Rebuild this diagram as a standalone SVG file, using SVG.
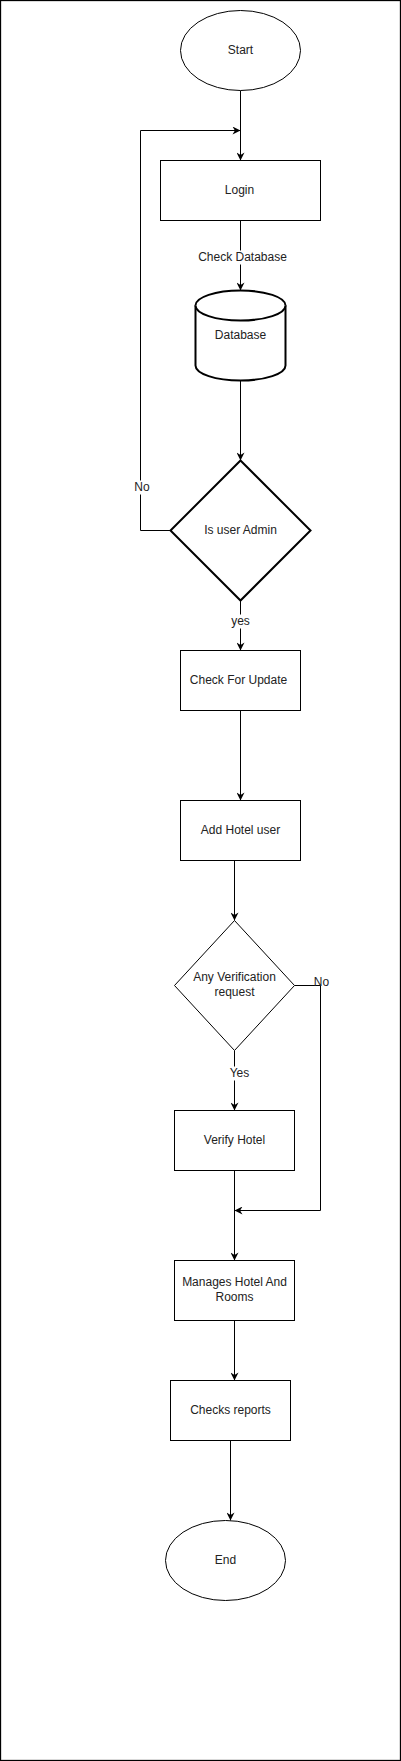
<svg xmlns="http://www.w3.org/2000/svg" width="401" height="1761" viewBox="0 0 401 1761">
<style>
text{font-family:"Liberation Sans",Arial,sans-serif;font-size:12px;fill:#222;text-anchor:middle;dominant-baseline:central;transform:translateY(-1px)}
.s{fill:#fff;stroke:#000;stroke-width:1}
.b{fill:#fff;stroke:#000;stroke-width:2}
.c{fill:none;stroke:#000;stroke-width:1}
.lbl{fill:#fff}
</style>
<defs>
<marker id="arr" viewBox="0 0 10 10" refX="10" refY="5" markerWidth="9" markerHeight="8" markerUnits="userSpaceOnUse" orient="auto">
<path d="M0,0 L10,5 L0,10 L3,5 z" fill="#000"/>
</marker>
</defs>
<rect x="0.5" y="0.5" width="400" height="1760" fill="#fff" stroke="#000" stroke-width="1.3"/>
<g transform="translate(0.5,0.5)">
<g id="connectors">
<path class="c" d="M240,90 L240,160" marker-end="url(#arr)"/>
<path class="c" d="M170,530 L140,530 L140,130 L240,130" marker-end="url(#arr)"/>
<path class="c" d="M240,220 L240,290" marker-end="url(#arr)"/>
<rect class="lbl" x="200" y="250" width="84" height="14"/>
<text x="242" y="257">Check Database</text>
<path class="c" d="M240,380 L240,460" marker-end="url(#arr)"/>
<path class="c" d="M240,600 L240,650" marker-end="url(#arr)"/>
<rect class="lbl" x="229" y="614" width="22" height="14"/>
<text x="240" y="621">yes</text>
<rect class="lbl" x="131" y="480" width="20" height="14"/>
<text x="141.5" y="487">No</text>
<path class="c" d="M240,710 L240,800" marker-end="url(#arr)"/>
<path class="c" d="M234,860 L234,920" marker-end="url(#arr)"/>
<path class="c" d="M234,1050 L234,1110" marker-end="url(#arr)"/>
<rect class="lbl" x="224" y="1066" width="21" height="14"/>
<text x="239" y="1073">Yes</text>
<path class="c" d="M294,985 L320,985 L320,1210 L234,1210" marker-end="url(#arr)"/>
<text x="321" y="982">No</text>
<path class="c" d="M234,1170 L234,1260" marker-end="url(#arr)"/>
<path class="c" d="M234,1320 L234,1380" marker-end="url(#arr)"/>
<path class="c" d="M230,1440 L230,1520" marker-end="url(#arr)"/>
</g>
<g id="start">
<ellipse class="s" cx="240" cy="50" rx="60" ry="40"/>
<text x="240" y="50">Start</text>
</g>
<g id="login">
<rect class="s" x="160" y="160" width="160" height="60"/>
<text x="239" y="190">Login</text>
</g>
<g id="database">
<path class="b" d="M195,305 A45,15 0 0 1 285,305 L285,365 A45,15 0 0 1 195,365 Z"/>
<path class="b" d="M195,305 A45,15 0 0 0 285,305" fill="none"/>
<text x="240" y="335">Database</text>
</g>
<g id="isAdmin">
<path class="b" d="M240,460 L310,530 L240,600 L170,530 Z"/>
<text x="240" y="530">Is user Admin</text>
</g>
<g id="checkUpdate">
<rect class="s" x="180" y="650" width="120" height="60"/>
<text x="238" y="680">Check For Update</text>
</g>
<g id="addHotelUser">
<rect class="s" x="180" y="800" width="120" height="60"/>
<text x="240" y="830">Add Hotel user</text>
</g>
<g id="verification">
<path class="s" d="M234,920 L294,985 L234,1050 L174,985 Z"/>
<text x="234" y="977.5">Any Verification</text>
<text x="234" y="992.5">request</text>
</g>
<g id="verifyHotel">
<rect class="s" x="174" y="1110" width="120" height="60"/>
<text x="234" y="1140">Verify Hotel</text>
</g>
<g id="manages">
<rect class="s" x="174" y="1260" width="120" height="60"/>
<text x="234" y="1282.5">Manages Hotel And</text>
<text x="234" y="1297.5">Rooms</text>
</g>
<g id="checksReports">
<rect class="s" x="170" y="1380" width="120" height="60"/>
<text x="230" y="1410">Checks reports</text>
</g>
<g id="end">
<ellipse class="s" cx="225" cy="1560" rx="60" ry="40"/>
<text x="225" y="1560">End</text>
</g>
</g>
</svg>
